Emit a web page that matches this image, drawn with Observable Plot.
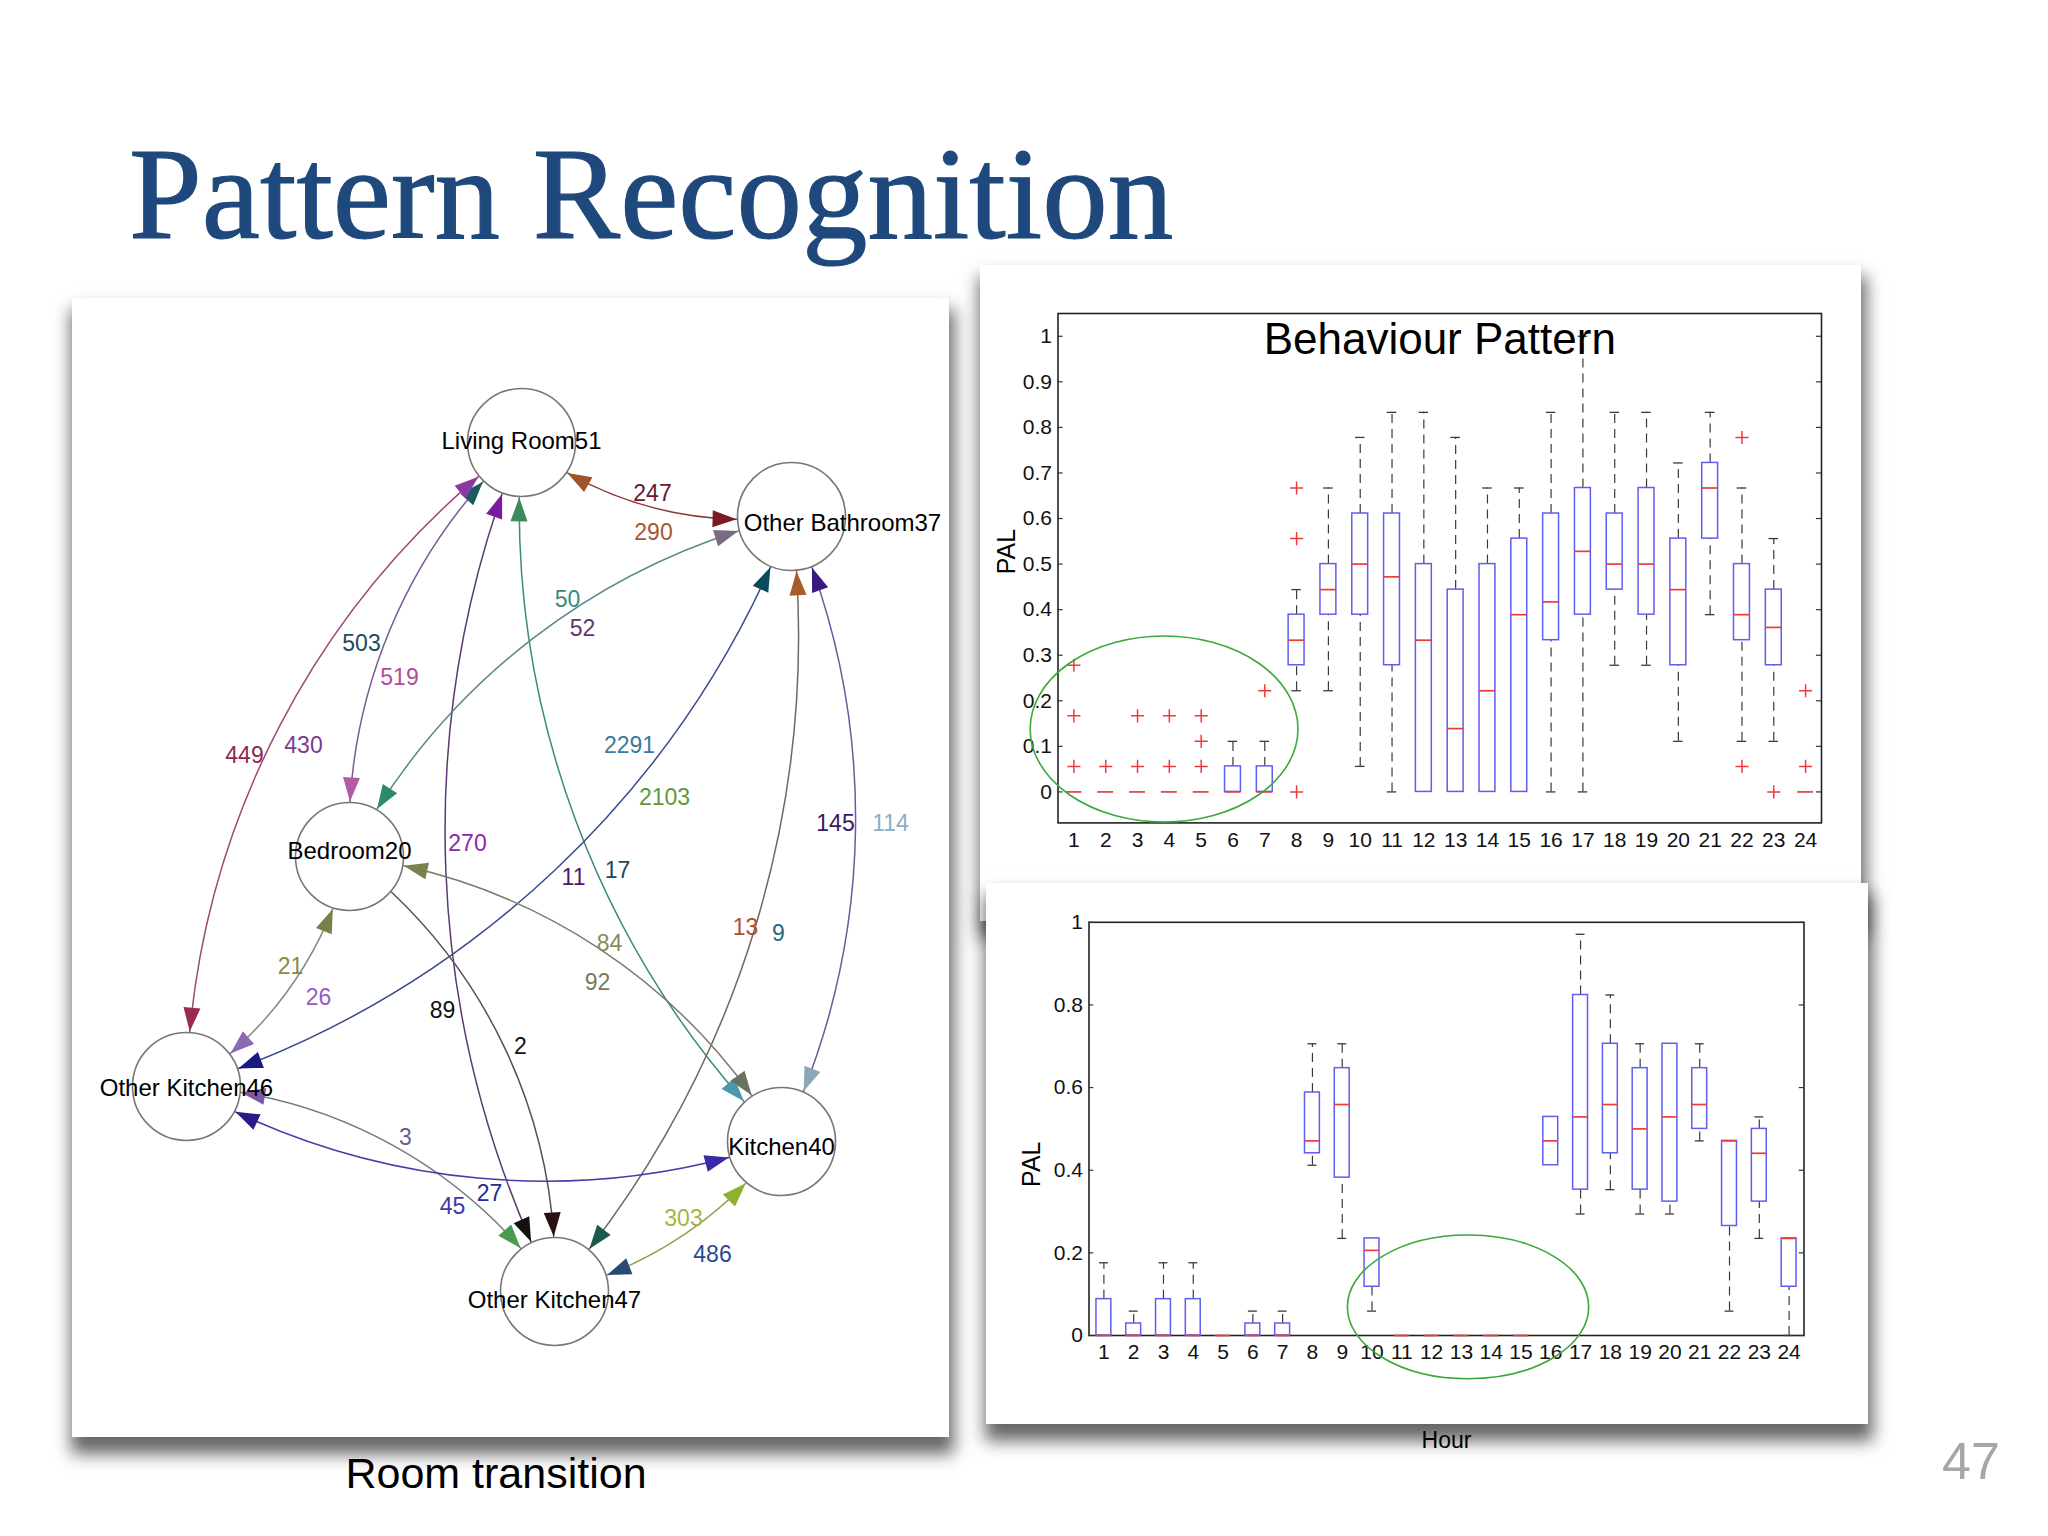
<!DOCTYPE html>
<html>
<head>
<meta charset="utf-8">
<script src="https://cdn.jsdelivr.net/npm/d3@7"></script>
<script src="https://cdn.jsdelivr.net/npm/@observablehq/plot@0.6"></script>
<style>
  html, body { margin: 0; padding: 0; background: #ffffff; }
  body { width: 2048px; height: 1536px; position: relative; overflow: hidden;
         font-family: "Liberation Sans", Arial, sans-serif; }
  .panel { position: absolute; background: #ffffff; box-shadow: 2px 14px 16px 3px rgba(0,0,0,0.6); }
  .panel svg { position: absolute; left: 0; top: 0; overflow: visible; max-width: none; }
  .box svg { -webkit-text-stroke: 0.45px #000; }
  #title { position: absolute; left: 129px; top: 128px; white-space: nowrap;
           font: 131px/131px "Liberation Serif", "Times New Roman", serif; color: #1f497d;
           -webkit-text-stroke: 1.2px #1f497d; }
  #caption { position: absolute; left: 296px; width: 400px; top: 1452px; text-align: center;
             font: 43px/43px "Liberation Sans", Arial, sans-serif; color: #000; }
  #pagenum { position: absolute; left: 1942px; top: 1435px; font: 52px/52px "Liberation Sans", Arial, sans-serif; color: #a6a6a6; }
</style>
</head>
<body>
<div id="title">Pattern Recognition</div>
<div class="panel" id="graphPanel" style="left:72px;top:298px;width:877px;height:1139px;"></div>
<div class="panel box" id="topPanel" style="left:980px;top:265px;width:881px;height:656px;"></div>
<div class="panel box" id="botPanel" style="left:986px;top:883px;width:882px;height:541px;"></div>
<div id="caption">Room transition</div>
<div id="pagenum">47</div>
<script>
// ---------------- Room transition graph data ----------------
const nodeNames = ["Living Room51", "Other Bathroom37", "Bedroom20", "Other Kitchen46", "Kitchen40", "Other Kitchen47"];
// graph layout (node centres, page units) and label offsets
const nodeX = [521, 791, 349, 186, 781, 554];
const nodeY = [442, 516, 856, 1086, 1141, 1291];
const nodeLabelShiftX = [0, 51, 0, 0, 0, 0];
const nodeLabelShiftY = [-2, 6, -6, 1, 5, 8];

// connections between rooms (index into nodeNames)
const edgeFrom = [0, 0, 0, 0, 0, 1, 1, 1, 1, 2, 2, 2, 3, 3, 4];
const edgeTo   = [1, 2, 3, 5, 4, 2, 3, 5, 4, 3, 4, 5, 5, 4, 5];
const edgeBend = [-22.6, -25, -26, -24.5, -24.5, -24.7, 25.8, 23.8, 24.9, 21.8, 26.4, 27.5, 26.2, -24.3, 20];
const edgeColor = ["#8a3a38", "#7a5a92", "#9a4a78", "#5a3a72", "#3a8a7e", "#5a8a86", "#3a4a8e", "#6a6a5e",
                   "#6a5a9e", "#8a8a80", "#7a7a6a", "#5a5050", "#7a7a7a", "#4a3aaa", "#8aa050"];
const headColorFrom = ["#a0522d", "#1a5a62", "#8a3a9e", "#7a1aa0", "#3a8a5a", "#7a6a84", "#0a4a5e", "#a85a2a",
                       "#3a1a80", "#7a8048", "#7a8050", null, "#7a5aa5", "#2a1a8a", "#90b030"];
const headColorTo   = ["#7a1a22", "#b35aa5", "#9a2a55", "#111111", "#4a9aaa", "#2a8a6a", "#1a1a80", "#1a5a4e",
                       "#8aa8ba", "#8a6ab5", "#6a7262", "#2a1010", "#4a9a50", "#3a2aaa", "#2a4a72"];

// transition counts
const countValue = [247, 290, 503, 519, 449, 430, 270, 89, 11, 17, 50, 52, 2291, 2103, 13, 9, 145, 114,
                    21, 26, 84, 92, 2, 3, 45, 27, 303, 486];
const countColor = ["#6a1a2e", "#a8552a", "#1a4a5e", "#b44a9e", "#8e2a4e", "#7a3a90", "#8a2aaa", "#111111",
                    "#4a1a70", "#1a4a5e", "#3a8a7a", "#5a3a70", "#3a7a9e", "#5a9a3a", "#b0502a", "#2a6a7a",
                    "#3a1a60", "#8ab0c4", "#8a8a3a", "#9a5ac4", "#8a8a5a", "#7a7a5a", "#111111", "#6a5a8e",
                    "#3a3aa4", "#2a2a8e", "#a4b444", "#2a4a8e"];
// count label layout
const countX = [652, 653, 361, 399, 244, 303, 467, 442, 573, 617, 567, 582, 629, 664, 745, 778, 835, 890,
                290, 318, 609, 597, 520, 405, 452, 489, 683, 712];
const countY = [493, 532, 643, 677, 755, 745, 843, 1010, 877, 870, 599, 628, 745, 797, 927, 933, 823, 823,
                966, 997, 943, 982, 1046, 1137, 1206, 1193, 1218, 1254];

// ---------------- Behaviour pattern box plots ----------------
const hours = d3.range(1, 25);
const topYTicks = [0, 0.1, 0.2, 0.3, 0.4, 0.5, 0.6, 0.7, 0.8, 0.9, 1];
const topQ1  = [0, 0, 0, 0, 0, 0, 0, 0.278, 0.389, 0.389, 0.278, 0, 0, 0, 0, 0.333, 0.389, 0.444, 0.389, 0.278, 0.556, 0.333, 0.278, 0];
const topMed = [0, 0, 0, 0, 0, 0, 0, 0.333, 0.444, 0.5, 0.472, 0.333, 0.139, 0.222, 0.389, 0.417, 0.528, 0.5, 0.5, 0.444, 0.667, 0.389, 0.361, 0];
const topQ3  = [0, 0, 0, 0, 0, 0.056, 0.056, 0.389, 0.5, 0.611, 0.611, 0.5, 0.444, 0.5, 0.556, 0.611, 0.667, 0.611, 0.667, 0.556, 0.722, 0.5, 0.444, 0];
const topLo  = [0, 0, 0, 0, 0, 0, 0, 0.222, 0.222, 0.056, 0, 0, 0, 0, 0, 0, 0, 0.278, 0.278, 0.111, 0.389, 0.111, 0.111, 0];
const topHi  = [0, 0, 0, 0, 0, 0.111, 0.111, 0.444, 0.667, 0.778, 0.833, 0.833, 0.778, 0.667, 0.667, 0.833, 1.0, 0.833, 0.833, 0.722, 0.833, 0.667, 0.556, 0];
const topOutHour  = [1, 1, 1, 2, 3, 3, 4, 4, 5, 5, 5, 7, 8, 8, 8, 22, 22, 23, 24, 24];
const topOutValue = [0.056, 0.167, 0.278, 0.056, 0.056, 0.167, 0.056, 0.167, 0.056, 0.111, 0.167, 0.222,
                     0, 0.556, 0.667, 0.056, 0.778, 0, 0.056, 0.222];

const botYTicks = [0, 0.2, 0.4, 0.6, 0.8, 1];
const botQ1  = [0, 0, 0, 0, 0, 0, 0, 0.441, 0.382, 0.118, 0, 0, 0, 0, 0, 0.412, 0.353, 0.441, 0.353, 0.324, 0.5, 0.265, 0.324, 0.118];
const botMed = [0, 0, 0, 0, 0, 0, 0, 0.471, 0.559, 0.206, 0, 0, 0, 0, 0, 0.471, 0.529, 0.559, 0.5, 0.529, 0.559, 0.471, 0.441, 0.235];
const botQ3  = [0.088, 0.029, 0.088, 0.088, 0, 0.029, 0.029, 0.588, 0.647, 0.235, 0, 0, 0, 0, 0, 0.529, 0.824, 0.706, 0.647, 0.706, 0.647, 0.471, 0.5, 0.235];
const botLo  = [0, 0, 0, 0, 0, 0, 0, 0.412, 0.235, 0.059, 0, 0, 0, 0, 0, 0.412, 0.294, 0.353, 0.294, 0.294, 0.471, 0.059, 0.235, 0];
const botHi  = [0.176, 0.059, 0.176, 0.176, 0, 0.059, 0.059, 0.706, 0.706, 0.235, 0, 0, 0, 0, 0, 0.529, 0.971, 0.824, 0.706, 0.706, 0.706, 0.471, 0.529, 0.235];

// highlighted regions (green ellipses): centre hour, centre PAL, half-width (hours), half-height (PAL)
const topHighlight = [3.85, 0.137, 4.21, 0.204];
const botHighlight = [13.24, 0.068, 4.05, 0.174];

// ---------------- helpers ----------------
const FONT = "Liberation Sans, Arial, sans-serif";
const BOX_BLUE = "#5e5ef2", MED_RED = "#f03a3a", WHISK = "#3a3a3a";

function ellipseMark([cx, cy, rx, ry]) {
  return (index, scales) => {
    const X = scales.x, Y = scales.y;
    const e = document.createElementNS("http://www.w3.org/2000/svg", "ellipse");
    const px = X(cx), py = Y(cy);
    e.setAttribute("cx", px);
    e.setAttribute("cy", py);
    e.setAttribute("rx", Math.abs(X(cx + rx) - px));
    e.setAttribute("ry", Math.abs(Y(cy + ry) - py));
    e.setAttribute("fill", "none");
    e.setAttribute("stroke", "#3aa83a");
    e.setAttribute("stroke-width", 1.6);
    return e;
  };
}

function boxPlot({q1, med, q3, lo, hi, outHour, outValue, yTicks, yDomain, width, height, margins, highlight, title, palDy, hourDy}) {
  const boxes = hours.map((h, i) => ({hour: h, q1: q1[i], med: med[i], q3: q3[i], lo: lo[i], hi: hi[i]}));
  const outliers = (outHour || []).map((h, i) => ({hour: h, value: outValue[i]}));
  const hw = 0.25, cw = 0.15, tk = 0.16;
  const marks = [
    Plot.frame({stroke: "#222", strokeWidth: 1.6}),
    Plot.ruleY(yTicks, {x1: 0.5, x2: 0.5 + tk, stroke: "#333", strokeWidth: 1.2}),
    Plot.ruleY(yTicks, {x1: 24.5 - tk, x2: 24.5, stroke: "#333", strokeWidth: 1.2}),
    Plot.ruleX(boxes.filter(d => d.hi > d.q3), {x: "hour", y1: "q3", y2: "hi", stroke: WHISK, strokeWidth: 1.2, strokeDasharray: "9,6"}),
    Plot.ruleX(boxes.filter(d => d.lo < d.q1), {x: "hour", y1: "lo", y2: "q1", stroke: WHISK, strokeWidth: 1.2, strokeDasharray: "9,6"}),
    Plot.ruleY(boxes.filter(d => d.hi > d.q3), {y: "hi", x1: d => d.hour - cw, x2: d => d.hour + cw, stroke: WHISK, strokeWidth: 1.3}),
    Plot.ruleY(boxes.filter(d => d.lo < d.q1), {y: "lo", x1: d => d.hour - cw, x2: d => d.hour + cw, stroke: WHISK, strokeWidth: 1.3}),
    Plot.rect(boxes, {x1: d => d.hour - hw, x2: d => d.hour + hw, y1: "q1", y2: "q3", fill: "none", stroke: BOX_BLUE, strokeWidth: 1.5}),
    Plot.ruleY(boxes, {y: "med", x1: d => d.hour - hw, x2: d => d.hour + hw, stroke: MED_RED, strokeWidth: 1.7}),
    Plot.dot(outliers, {x: "hour", y: "value", symbol: "plus", r: 4.3, stroke: MED_RED, strokeWidth: 1.5}),
    ellipseMark(highlight),
    Plot.text(["PAL"], {frameAnchor: "left", dx: palDy[0], dy: palDy[1], rotate: -90, fontSize: 25, fill: "#000", lineAnchor: "middle"}),
    Plot.text(["Hour"], {frameAnchor: "bottom", dy: hourDy, fontSize: 23, fill: "#000", lineAnchor: "middle"})
  ];
  if (title) marks.push(Plot.text([title], {frameAnchor: "top", dy: 26, fontSize: 44, fill: "#000", lineAnchor: "middle"}));
  return Plot.plot({
    width, height,
    marginLeft: margins[0], marginRight: margins[1], marginTop: margins[2], marginBottom: margins[3],
    x: {domain: [0.5, 24.5], ticks: hours, tickSize: 0, tickPadding: 9, tickFormat: d => String(d), label: null},
    y: {domain: yDomain, ticks: yTicks, tickSize: 0, tickPadding: 6, tickFormat: d3.format("~g"), label: null},
    style: {fontFamily: FONT, fontSize: "21px", color: "#111", background: "transparent", overflow: "visible"},
    marks
  });
}

// ---------------- top chart ----------------
document.getElementById("topPanel").appendChild(boxPlot({
  q1: topQ1, med: topMed, q3: topQ3, lo: topLo, hi: topHi, outHour: topOutHour, outValue: topOutValue,
  yTicks: topYTicks, yDomain: [-0.068, 1.05], width: 881, height: 656,
  margins: [77.5, 40, 48, 98.6], highlight: topHighlight, title: "Behaviour Pattern",
  palDy: [-51.5, 6], hourDy: 70
}));

// ---------------- bottom chart ----------------
document.getElementById("botPanel").appendChild(boxPlot({
  q1: botQ1, med: botMed, q3: botQ3, lo: botLo, hi: botHi, outHour: [], outValue: [],
  yTicks: botYTicks, yDomain: [0, 1], width: 882, height: 541,
  margins: [102.5, 64.5, 38.8, 89], highlight: botHighlight, title: null,
  palDy: [-57.5, 58], hourDy: 105
}));

// ---------------- graph ----------------
const nodeRadius = 54;
const arcs = edgeFrom.map((a, i) => {
  const b = edgeTo[i];
  const x1 = nodeX[a], y1 = nodeY[a], x2 = nodeX[b], y2 = nodeY[b];
  const L = Math.hypot(x2 - x1, y2 - y1);
  const beta = edgeBend[i] * Math.PI / 180, s = Math.sign(beta), ab = Math.abs(beta);
  const R = L / (2 * Math.sin(ab));
  const ux = (x2 - x1) / L, uy = (y2 - y1) / L;
  const nx = uy, ny = -ux;
  const h = L / (2 * Math.tan(ab));
  const cx = (x1 + x2) / 2 - s * nx * h, cy = (y1 + y2) / 2 - s * ny * h;
  const t1 = Math.atan2(y1 - cy, x1 - cx);
  const t2 = t1 + s * 2 * ab;
  const d = 2 * Math.asin((nodeRadius + 1) / (2 * R));
  const ts = t1 + s * d, te = t2 - s * d;
  const P = t => [cx + R * Math.cos(t), cy + R * Math.sin(t)];
  const [sx, sy] = P(ts), [ex, ey] = P(te);
  const sub = s * (2 * ab - 2 * d) / 2;
  const endDir = Math.atan2(s * Math.cos(te), -s * Math.sin(te));
  const startDir = Math.atan2(-s * Math.cos(ts), s * Math.sin(ts));
  return {i, sx, sy, ex, ey, bend: sub * 180 / Math.PI, endDir, startDir};
});
const heads = [];
arcs.forEach(a => {
  if (headColorTo[a.i]) heads.push({x: a.ex, y: a.ey, rot: a.endDir * 180 / Math.PI + 90, color: headColorTo[a.i]});
  if (headColorFrom[a.i]) heads.push({x: a.sx, y: a.sy, rot: a.startDir * 180 / Math.PI + 90, color: headColorFrom[a.i]});
});
const headSymbol = {
  draw(ctx, size) {
    const r = Math.sqrt(size / Math.PI);
    const len = 2.4 * r, w = 0.85 * r;
    ctx.moveTo(0, 0); ctx.lineTo(-w, len); ctx.lineTo(w, len); ctx.closePath();
  }
};
const nodeIdx = d3.range(nodeNames.length);
const countIdx = d3.range(countValue.length);

const graph = Plot.plot({
  width: 877, height: 1139, margin: 0,
  x: {domain: [72, 949], range: [0, 877], axis: null},
  y: {domain: [298, 1437], range: [0, 1139], axis: null},
  color: {type: "identity"},
  style: {fontFamily: FONT, background: "transparent", overflow: "visible"},
  marks: [
    ...arcs.map(a => Plot.arrow([a], {x1: "sx", y1: "sy", x2: "ex", y2: "ey", bend: a.bend, headLength: 0,
                                      stroke: edgeColor[a.i], strokeWidth: 1.5})),
    Plot.dot(heads, {x: "x", y: "y", rotate: "rot", symbol: headSymbol, r: 10, fill: "color", stroke: "none"}),
    Plot.dot(nodeIdx, {x: i => nodeX[i], y: i => nodeY[i], r: nodeRadius, fill: "none", stroke: "#777", strokeWidth: 1.6}),
    Plot.text(nodeIdx, {x: i => nodeX[i] + nodeLabelShiftX[i], y: i => nodeY[i] + nodeLabelShiftY[i], dy: 1,
                        text: i => nodeNames[i], fontSize: 24, fill: "#000"}),
    Plot.text(countIdx, {x: i => countX[i], y: i => countY[i], text: i => String(countValue[i]),
                         fill: i => countColor[i], fontSize: 23})
  ]
});
document.getElementById("graphPanel").appendChild(graph);
</script>
</body>
</html>
